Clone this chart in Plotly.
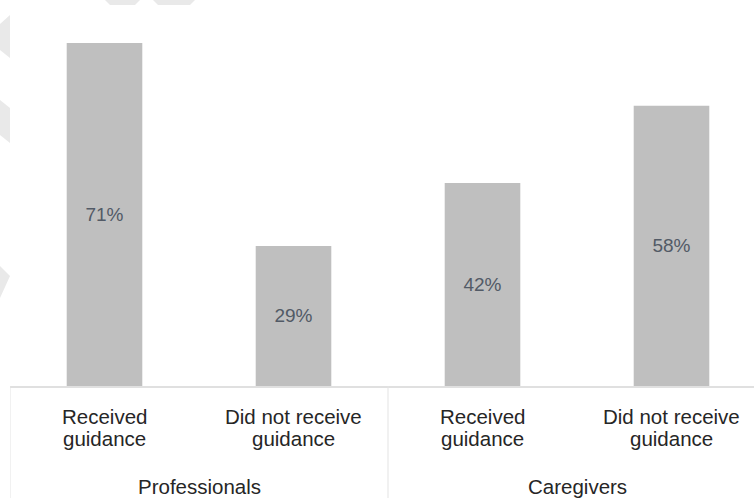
import plotly.graph_objects as go

groups = ["Professionals", "Professionals", "Caregivers", "Caregivers"]
cat_line1 = ["Received", "Did not receive", "Received", "Did not receive"]
cat_line2 = ["guidance", "guidance", "guidance", "guidance"]
values = [71, 29, 42, 58]
labels = ["71%", "29%", "42%", "58%"]

FONT = "Liberation Sans, Arial, sans-serif"
xs = list(range(len(values)))

fig = go.Figure(go.Bar(
    x=xs,
    y=values,
    text=labels,
    textposition="inside",
    insidetextanchor="middle",
    textangle=0,
    textfont=dict(family=FONT, size=19, color="#525a66"),
    marker=dict(color="#bfbfbf", line=dict(width=0)),
    width=0.4,
    hoverinfo="skip",
))

W, H = 754, 498
ML, MT, MB = 10, 0, 112
plot_h = H - MT - MB
plot_w = W - ML

annotations = []
for i in xs:
    annotations.append(dict(x=i, xref="x", y=0, yref="paper", text=cat_line1[i],
                            showarrow=False, yanchor="middle", yshift=-30,
                            font=dict(family=FONT, size=20.5, color="#262626")))
    annotations.append(dict(x=i, xref="x", y=0, yref="paper", text=cat_line2[i],
                            showarrow=False, yanchor="middle", yshift=-52,
                            font=dict(family=FONT, size=20.5, color="#262626")))

# group labels and dividers derived from the groups list
shapes = []
start = 0
for i in range(1, len(groups) + 1):
    if i == len(groups) or groups[i] != groups[start]:
        center = (start + i - 1) / 2
        annotations.append(dict(x=center, xref="x", y=0, yref="paper", text=groups[start],
                                showarrow=False, yanchor="middle", yshift=-100,
                                font=dict(family=FONT, size=20.5, color="#262626")))
        shapes.append(dict(type="line", xref="x", yref="paper",
                           x0=start - 0.5, x1=start - 0.5, y0=0, y1=-MB / plot_h,
                           line=dict(color="#e3e3e3", width=1)))
        start = i


# faint background decoration (light chevrons at the top-left edge)
def px(x):
    return (x - ML) / plot_w


def py(y):
    return (H - MB - y) / plot_h


decor = [
    [(0, 24), (10, 15), (10, 58), (0, 50)],
    [(0, 100), (10, 108), (10, 143), (0, 135)],
    [(0, 266), (10, 276), (0, 298)],
    [(105, 0), (140, 0), (135, 5), (110, 5)],
    [(153, 0), (195, 0), (190, 5), (158, 5)],
]
for poly in decor:
    path = "M " + " L ".join(f"{px(a):.5f},{py(b):.5f}" for a, b in poly) + " Z"
    shapes.append(dict(type="path", xref="paper", yref="paper", path=path,
                       fillcolor="#e9e9e9", line=dict(width=0), layer="below"))

fig.update_layout(
    width=W, height=H,
    margin=dict(l=ML, r=0, t=MT, b=MB),
    paper_bgcolor="white", plot_bgcolor="white",
    showlegend=False,
    hovermode=False,
    font=dict(family=FONT, size=20.5, color="#262626"),
    xaxis=dict(
        range=[-0.5, -0.5 + plot_w / 189],
        showline=True, linecolor="#e0e0e0", linewidth=2,
        showgrid=False, ticks="", showticklabels=False, zeroline=False,
    ),
    yaxis=dict(range=[0, plot_h / 4.831], visible=False),
    annotations=annotations,
    shapes=shapes,
)

fig.write_html(
    "out.html",
    config={"displayModeBar": False, "staticPlot": True},
    post_script="document.body.style.margin='0px';document.body.style.overflow='hidden';",
)
